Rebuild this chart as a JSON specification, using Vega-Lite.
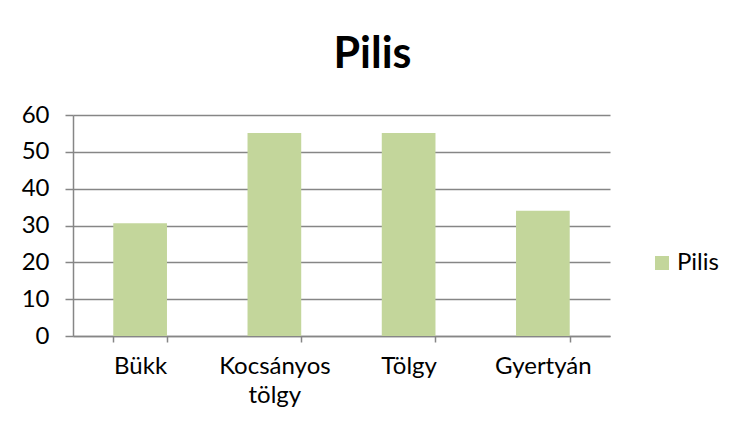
{
  "$schema": "https://vega.github.io/schema/vega-lite/v6.json",
  "autosize": {"type": "none"},
  "width": 537,
  "height": 221,
  "padding": {"left": 73, "top": 115, "right": 129, "bottom": 96},
  "background": "white",
  "data": {
    "values": [
      {"faj": "Bükk", "ertek": 30.6, "sorozat": "Pilis"},
      {"faj": "Kocsányos tölgy", "ertek": 55.1, "sorozat": "Pilis"},
      {"faj": "Tölgy", "ertek": 55.1, "sorozat": "Pilis"},
      {"faj": "Gyertyán", "ertek": 34.0, "sorozat": "Pilis"}
    ]
  },
  "title": {
    "text": "Pilis",
    "font": "Lato",
    "fontSize": 43,
    "fontWeight": "bold",
    "color": "black",
    "anchor": "middle",
    "frame": "group",
    "dx": 31,
    "baseline": "alphabetic",
    "offset": -8
  },
  "mark": {"type": "bar", "color": "#C3D69B"},
  "encoding": {
    "x": {
      "field": "faj",
      "type": "nominal",
      "sort": null,
      "scale": {"paddingInner": 0.6, "paddingOuter": 0.3},
      "axis": {
        "title": null,
        "labelAngle": 0,
        "labelFont": "Lato",
        "labelFontSize": 24,
        "labelColor": "black",
        "labelPadding": 12,
        "labelLineHeight": 29,
        "labelExpr": "datum.label == 'Kocsányos tölgy' ? ['Kocsányos', 'tölgy'] : datum.label",
        "tickBand": "extent",
        "tickSize": 6,
        "tickColor": "#868686",
        "tickWidth": 1.5,
        "domainColor": "#868686",
        "domainWidth": 1.5,
        "grid": false
      }
    },
    "y": {
      "field": "ertek",
      "type": "quantitative",
      "scale": {"domain": [0, 60], "nice": false},
      "axis": {
        "title": null,
        "values": [0, 10, 20, 30, 40, 50, 60],
        "labelFont": "Lato",
        "labelFontSize": 24,
        "labelColor": "black",
        "labelPadding": 16,
        "tickSize": 8,
        "tickColor": "#868686",
        "tickWidth": 1.5,
        "domainColor": "#868686",
        "domainWidth": 1.5,
        "gridColor": "#868686",
        "gridWidth": 1.5,
        "gridOpacity": 1
      }
    },
    "color": {
      "field": "sorozat",
      "type": "nominal",
      "scale": {"range": ["#C3D69B"]},
      "legend": {
        "title": null,
        "orient": "none",
        "legendX": 577,
        "legendY": 136,
        "symbolType": "square",
        "symbolSize": 196,
        "symbolStrokeWidth": 0,
        "labelFont": "Lato",
        "labelFontSize": 24,
        "labelColor": "black",
        "labelOffset": 3
      }
    }
  },
  "config": {"view": {"stroke": null}}
}
